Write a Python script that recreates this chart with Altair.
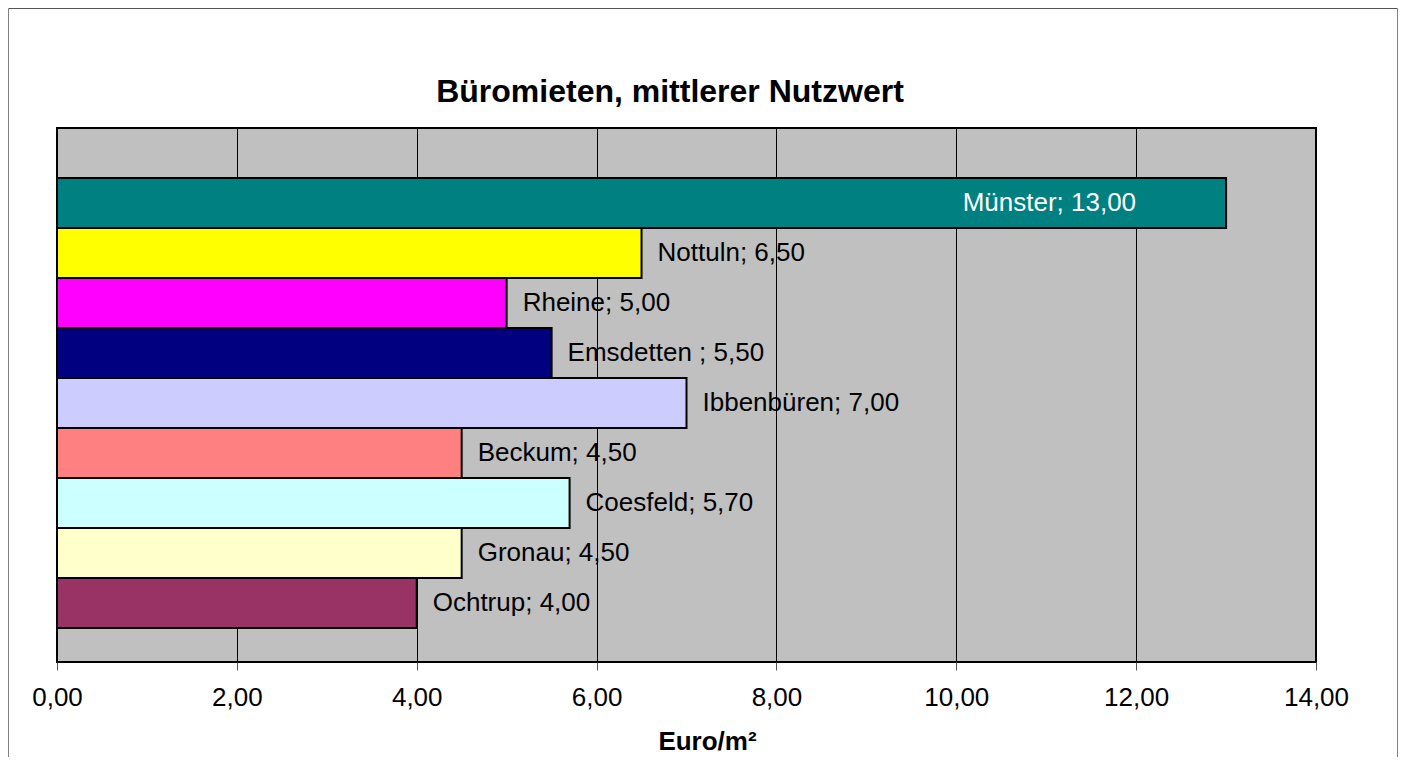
import altair as alt
import pandas as pd

staedte = ["Münster", "Nottuln", "Rheine", "Emsdetten ", "Ibbenbüren", "Beckum", "Coesfeld", "Gronau", "Ochtrup"]
werte = [13.00, 6.50, 5.00, 5.50, 7.00, 4.50, 5.70, 4.50, 4.00]
farben = ["#008080", "#FFFF00", "#FF00FF", "#000080", "#CCCCFF", "#FF8080", "#CCFFFF", "#FFFFCC", "#993366"]
x_ticks = [0, 2, 4, 6, 8, 10, 12, 14]
titel = "Büromieten, mittlerer Nutzwert"
x_titel = "Euro/m²"

FONT = "Liberation Sans"
W, H = 1259, 534

df = pd.DataFrame({"stadt": staedte, "wert": werte})

yscale = alt.Scale(domain=staedte, paddingInner=0, paddingOuter=0.84, align=0.595)
xscale = alt.Scale(domain=[0, 14], nice=False, zero=True)

base = alt.Chart(df).transform_calculate(
    label="datum.stadt + '; ' + replace(format(datum.wert, '.2f'), '.', ',')"
)

bars = base.mark_bar(stroke="black", strokeWidth=2, opacity=1).encode(
    x=alt.X("wert:Q", scale=xscale,
            axis=alt.Axis(values=x_ticks, grid=True, gridColor="#000000", gridWidth=1,
                          domain=False, tickColor="#555555", tickSize=8, tickWidth=1,
                          labelExpr="replace(format(datum.value, '.2f'), '.', ',')",
                          labelFlush=False, labelOverlap=False,
                          labelFont=FONT, labelFontSize=26, labelColor="#000000",
                          labelBaseline="alphabetic", labelPadding=35,
                          title=x_titel, titleFont=FONT, titleFontSize=26, titleFontWeight="bold",
                          titleColor="#000000", titleX=650, titleY=87, titleAlign="center",
                          titleBaseline="alphabetic")),
    y=alt.Y("stadt:N", scale=yscale, sort=staedte, axis=None),
    color=alt.Color("stadt:N", scale=alt.Scale(domain=staedte, range=farben), legend=None),
)

labels_out = base.transform_filter("datum.stadt != 'Münster'").mark_text(
    align="left", baseline="middle", dx=16, font=FONT, fontSize=26, color="#000000"
).encode(
    x=alt.X("wert:Q", scale=xscale),
    y=alt.Y("stadt:N", scale=yscale, sort=staedte),
    text="label:N",
)

labels_in = base.transform_filter("datum.stadt == 'Münster'").mark_text(
    align="right", baseline="middle", dx=-90, font=FONT, fontSize=26, color="#FFFFFF"
).encode(
    x=alt.X("wert:Q", scale=xscale),
    y=alt.Y("stadt:N", scale=yscale, sort=staedte),
    text="label:N",
)

title_df = pd.DataFrame({"t": [titel]})
title_mark = alt.Chart(title_df).mark_text(
    align="center", baseline="alphabetic", font=FONT, fontSize=32, fontWeight="bold", color="#000000"
).encode(x=alt.value(613), y=alt.value(-26), text="t:N")

frame_top = alt.Chart(title_df).mark_rule(color="#555555", strokeWidth=1).encode(
    x=alt.value(-48.5), x2=alt.value(1340.5), y=alt.value(-119.5))
frame_left = alt.Chart(title_df).mark_rule(color="#808080", strokeWidth=1).encode(
    x=alt.value(-48.5), y=alt.value(-119.5), y2=alt.value(640))
frame_right = alt.Chart(title_df).mark_rule(color="#808080", strokeWidth=1).encode(
    x=alt.value(1340.5), y=alt.value(-119.5), y2=alt.value(640))

chart = alt.layer(bars, labels_out, labels_in, title_mark, frame_top, frame_left, frame_right).properties(
    width=W, height=H,
    autosize=alt.AutoSizeParams(type="none"),
    padding={"left": 49, "top": 120, "right": 82, "bottom": 95},
    background="#FFFFFF",
).configure_view(fill="#C0C0C0", stroke="#000000", strokeWidth=2)

chart.save("out.html", embed_options={"renderer": "svg", "actions": False})
